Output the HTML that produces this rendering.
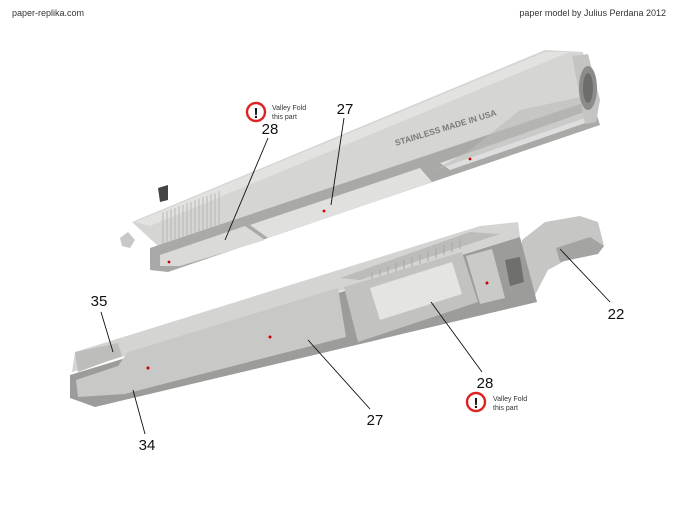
<!DOCTYPE html>
<html><head><meta charset="utf-8"><style>
html,body{margin:0;padding:0;background:#fff;}
svg{display:block;}
text{font-family:"Liberation Sans",Arial,sans-serif;}
</style></head><body>
<svg width="680" height="510" viewBox="0 0 680 510" xmlns="http://www.w3.org/2000/svg">
<rect width="680" height="510" fill="#fff"/>
<text x="12" y="16" font-size="9" fill="#333">paper-replika.com</text>
<text x="666" y="16" font-size="9" fill="#333" text-anchor="end">paper model by Julius Perdana 2012</text>

<!-- TOP SLIDE -->
<polygon points="120,238 128,232 135,240 130,248 122,246" fill="#c8c8c6"/>
<polygon points="158,188 168,185 168,200 160,202" fill="#444"/>
<polygon points="132,222 545,50 583,52 592,100 158,246" fill="#d5d5d3"/>
<polygon points="135,222 545,52 570,52 545,62 150,226" fill="#e2e2e0"/>
<g stroke="#b8b8b6" stroke-width="1">
<line x1="163" y1="212" x2="163" y2="250"/><line x1="167" y1="211" x2="167" y2="249"/><line x1="171" y1="209" x2="171" y2="247"/><line x1="175" y1="208" x2="175" y2="246"/><line x1="179" y1="206" x2="179" y2="244"/><line x1="183" y1="205" x2="183" y2="242"/><line x1="187" y1="203" x2="187" y2="241"/><line x1="191" y1="202" x2="191" y2="240"/><line x1="195" y1="200" x2="195" y2="238"/><line x1="199" y1="199" x2="199" y2="237"/><line x1="203" y1="197" x2="203" y2="235"/><line x1="207" y1="196" x2="207" y2="234"/><line x1="211" y1="194" x2="211" y2="232"/><line x1="215" y1="193" x2="215" y2="231"/><line x1="219" y1="191" x2="219" y2="229"/>
</g>
<polygon points="150,248 592,100 600,125 168,272 150,270" fill="#a9a9a7"/>
<polygon points="160,255 245,226 265,240 180,266 160,266" fill="#dadad8"/>
<polygon points="250,225 420,168 432,182 268,238" fill="#e0e0de"/>
<polygon points="440,163 590,110 594,120 450,170" fill="#dedede"/>
<polygon points="435,170 585,118 590,95 520,110 470,150" fill="#bdbdbb" opacity="0.6"/>
<polygon points="572,56 588,54 600,100 596,122 585,124" fill="#c4c4c2"/>
<ellipse cx="588" cy="88" rx="9" ry="22" fill="#8c8c8a"/>
<ellipse cx="588" cy="88" rx="5" ry="15" fill="#6d6d6b"/>
<text x="0" y="0" font-size="8.5" font-weight="bold" fill="#7a7a78" transform="translate(396,146) rotate(-17)">STAINLESS MADE IN USA</text>
<circle cx="470" cy="159" r="1.4" fill="#c00"/><circle cx="324" cy="211" r="1.4" fill="#c00"/><circle cx="169" cy="262" r="1.4" fill="#c00"/>

<!-- BOTTOM SLIDE -->
<polygon points="75,352 480,226 518,222 520,237 72,372" fill="#d4d4d2"/>
<polygon points="340,278 470,232 500,234 360,280" fill="#bcbcba"/>
<g stroke="#a8a8a6" stroke-width="1">
<line x1="372" y1="272" x2="372" y2="282"/><line x1="380" y1="269" x2="380" y2="279"/><line x1="388" y1="266" x2="388" y2="276"/><line x1="396" y1="263" x2="396" y2="273"/><line x1="404" y1="260" x2="404" y2="270"/><line x1="412" y1="257" x2="412" y2="267"/><line x1="420" y1="254" x2="420" y2="264"/><line x1="428" y1="251" x2="428" y2="261"/><line x1="436" y1="248" x2="436" y2="258"/><line x1="444" y1="245" x2="444" y2="255"/><line x1="452" y1="242" x2="452" y2="252"/><line x1="460" y1="239" x2="460" y2="249"/>
</g>
<polygon points="522,240 545,222 580,216 598,222 604,246 570,258 548,270 535,295 520,290" fill="#c6c6c4"/>
<polygon points="556,248 590,237 604,246 598,254 560,262" fill="#a4a4a2"/>
<polygon points="70,375 520,237 537,302 95,407 70,398" fill="#9c9c9a"/>
<polygon points="76,380 118,366 128,352 338,288 346,337 140,390 125,394 78,397" fill="#c8c8c6"/>
<polygon points="344,287 462,252 478,302 358,342" fill="#c2c2c0"/>
<polygon points="370,288 452,262 462,294 380,320" fill="#e4e4e2"/>
<polygon points="466,256 492,249 505,298 480,304" fill="#cacac8"/>
<polygon points="505,260 520,257 524,282 510,286" fill="#6f6f6d"/>
<polygon points="75,352 118,343 122,356 78,372" fill="#bdbdbb"/>
<circle cx="487" cy="283" r="1.5" fill="#c00"/><circle cx="270" cy="337" r="1.5" fill="#c00"/><circle cx="148" cy="368" r="1.5" fill="#c00"/>

<g stroke="#111" stroke-width="0.9" fill="none">
<line x1="268" y1="138" x2="225" y2="240"/>
<line x1="344" y1="118" x2="331" y2="205"/>
<line x1="101" y1="312" x2="113" y2="352"/>
<line x1="145" y1="434" x2="133" y2="390"/>
<line x1="370" y1="409" x2="308" y2="340"/>
<line x1="482" y1="372" x2="431" y2="302"/>
<line x1="610" y1="302" x2="560" y2="249"/>
</g>
<g font-size="15" fill="#111" text-anchor="middle">
<text x="270" y="134">28</text>
<text x="345" y="114">27</text>
<text x="99" y="306">35</text>
<text x="147" y="450">34</text>
<text x="375" y="425">27</text>
<text x="485" y="388">28</text>
<text x="616" y="319">22</text>
</g>
<g>
<circle cx="256" cy="112" r="9" fill="#fff" stroke="#d22" stroke-width="2.4"/>
<text x="256" y="118" font-size="15" font-weight="bold" text-anchor="middle" fill="#111">!</text>
<text x="272" y="110" font-size="7" fill="#333">Valley Fold</text>
<text x="272" y="119" font-size="7" fill="#333">this part</text>
<circle cx="476" cy="402" r="9" fill="#fff" stroke="#d22" stroke-width="2.4"/>
<text x="476" y="408" font-size="15" font-weight="bold" text-anchor="middle" fill="#111">!</text>
<text x="493" y="401" font-size="7" fill="#333">Valley Fold</text>
<text x="493" y="410" font-size="7" fill="#333">this part</text>
</g>
</svg>
</body></html>
